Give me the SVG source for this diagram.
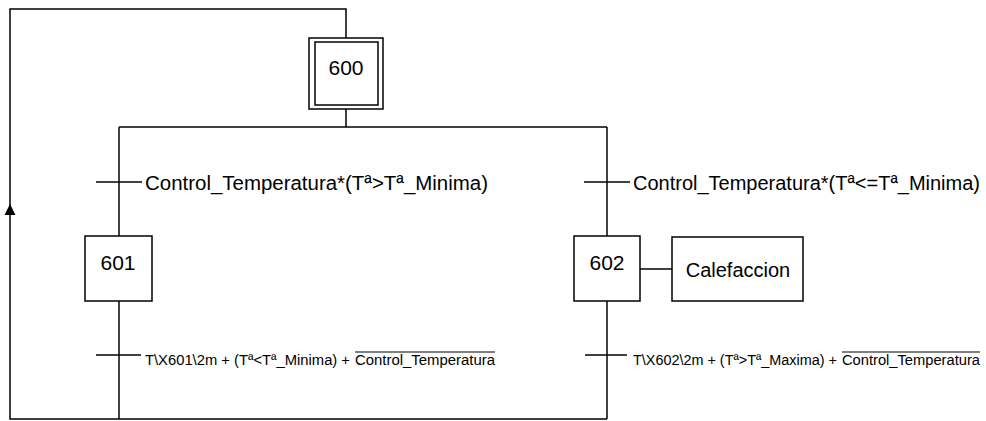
<svg xmlns="http://www.w3.org/2000/svg" width="986" height="421" viewBox="0 0 986 421">
<style>
.ln{stroke:#000;stroke-width:1.5;fill:none}
.bx{stroke:#000;stroke-width:1.5;fill:#fff}
.t{font-family:"Liberation Sans",Arial,sans-serif;fill:#000}
.big{font-size:21px}
.cond{font-size:20px}
.sm{font-size:14px}
</style>
<rect width="986" height="421" fill="#fff"/>
<g id="connectors">
<path class="ln" d="M346,38 V9 H10 V419 H607"/>
<path d="M10,204 L4.5,215 L15.5,215 Z" fill="#000"/>
<path class="ln" d="M346,109 V127"/>
<path class="ln" d="M119,127 H607"/>
<path class="ln" d="M119,127 V236"/>
<path class="ln" d="M607,127 V236"/>
<path class="ln" d="M119,301 V419"/>
<path class="ln" d="M607,301 V419"/>
<path class="ln" d="M640,269 H672"/>
</g>
<g id="step600">
<rect class="bx" x="309" y="38" width="74" height="71"/>
<rect class="bx" x="315" y="42" width="63" height="63"/>
<text class="t big" x="346" y="75" text-anchor="middle">600</text>
</g>
<g id="step601">
<rect class="bx" x="85" y="236" width="67" height="65"/>
<text class="t big" x="118" y="270" text-anchor="middle">601</text>
</g>
<g id="step602">
<rect class="bx" x="574" y="236" width="66" height="65"/>
<text class="t big" x="607" y="270" text-anchor="middle">602</text>
</g>
<g id="action-calefaccion">
<rect class="bx" x="672" y="237" width="131" height="64"/>
<text class="t cond" x="738" y="277" text-anchor="middle">Calefaccion</text>
</g>
<g id="transition-601">
<path class="ln" d="M96,182 H142"/>
<text class="t cond" x="145" y="190" textLength="343" lengthAdjust="spacingAndGlyphs">Control_Temperatura*(Tª&gt;Tª_Minima)</text>
</g>
<g id="transition-602">
<path class="ln" d="M584,182 H630"/>
<text class="t cond" x="633" y="190" textLength="347" lengthAdjust="spacingAndGlyphs">Control_Temperatura*(Tª&lt;=Tª_Minima)</text>
</g>
<g id="transition-601-600">
<path class="ln" d="M96,355 H141"/>
<text class="t sm" x="145" y="365" textLength="205" lengthAdjust="spacingAndGlyphs">T\X601\2m + (Tª&lt;Tª_Minima) +</text>
<text class="t sm" x="355" y="365" textLength="140" lengthAdjust="spacingAndGlyphs">Control_Temperatura</text>
<path d="M355,352 H495" stroke="#000" stroke-width="1.2"/>
</g>
<g id="transition-602-600">
<path class="ln" d="M585,355 H627"/>
<text class="t sm" x="633" y="365" textLength="204" lengthAdjust="spacingAndGlyphs">T\X602\2m + (Tª&gt;Tª_Maxima) +</text>
<text class="t sm" x="842" y="365" textLength="138" lengthAdjust="spacingAndGlyphs">Control_Temperatura</text>
<path d="M842,352 H980" stroke="#000" stroke-width="1.2"/>
</g>
</svg>
